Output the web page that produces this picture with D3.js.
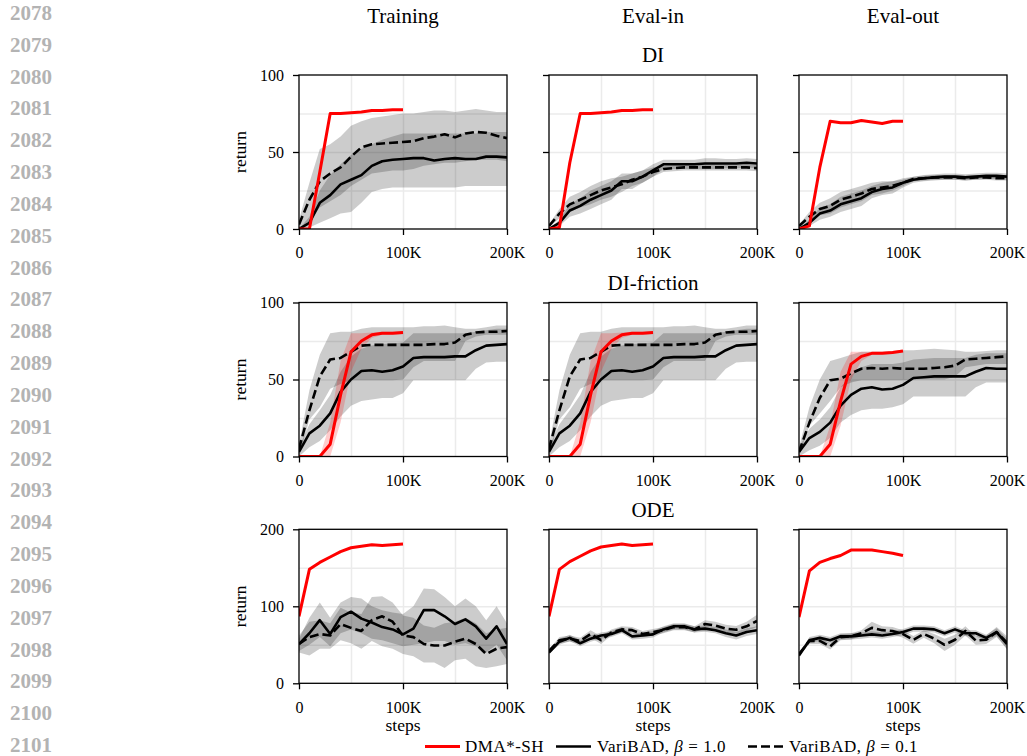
<!DOCTYPE html>
<html>
<head>
<meta charset="utf-8">
<script src="https://cdn.jsdelivr.net/npm/d3@7/dist/d3.min.js"></script>
<style>
    body { margin: 0; background: #fff; }
    svg text { font-family: "Liberation Serif", "DejaVu Serif", serif; }
</style>
</head>
<body>
<div id="chart"></div>
<script>

// x positions of the logged points
var stepsDma = [0, 10000, 20000, 30000, 40000, 50000, 60000, 70000, 80000, 90000, 100000];
var stepsVb = [0, 10000, 20000, 30000, 40000, 50000, 60000, 70000, 80000, 90000, 100000,
    110000, 120000, 130000, 140000, 150000, 160000, 170000, 180000, 190000, 200000];

var columnTitles = ["Training", "Eval-in", "Eval-out"];
var rowTitles = ["DI", "DI-friction", "ODE"];
var rowMax = [100, 100, 200];
var legendNames = ["DMA*-SH", "VariBAD, ", "VariBAD, "];
var legendBeta = ["", "1.0", "0.1"];
var lineNumbers = [2078, 2079, 2080, 2081, 2082, 2083, 2084, 2085, 2086, 2087, 2088, 2089,
    2090, 2091, 2092, 2093, 2094, 2095, 2096, 2097, 2098, 2099, 2100, 2101];

// every point is [mean, lower, upper]
// DI
var diTrainDma = [[0,0,0],[0,0,0.5],[37,35,39],[75,74.5,75.5],[75,74.5,75.5],[75.5,75,76],[76,75.5,76.5],[77,76.5,77.5],[77,76.5,77.5],[77.5,77,78],[77.5,77,78]];
var diTrainVb1 = [[0,0,0],[4,1,8],[17,4,25],[22,7,35],[29,10,42],[32,11,48],[35,17,52],[41,24,55],[44,26,58],[45,27,60],[45.5,27,62],[46,27,62],[46,27,62],[44.5,27,62],[45.5,27,62],[46,27,62],[45.5,28,62],[45.5,28,62],[47,28,63],[47,28,63],[46.5,28,63]];
var diTrainVb01 = [[3,0,6],[19,5,30],[31,14,52],[36,18,55],[40,22,60],[47,28,67],[53,32,70],[55,36,72],[55.5,37,73],[56,38,74],[56.5,38,75],[57,39,75],[59,41,76],[60,42,77],[61.5,43,77],[59.5,43,76],[62,44,77],[63,45,78],[62.5,45,77],[60.5,45,76],[59,44,76]];

var diInDma = [[0,0,0],[1,0,2],[43,41,45],[75,74.5,75.5],[75,74.5,75.5],[75.5,75,76],[76,75.5,76.5],[77,76.5,77.5],[77,76.5,77.5],[77.5,77,78],[77.5,77,78]];
var diInVb1 = [[0,0,0],[4,2,6],[12,8,16],[15,10,20],[19,13,25],[22,16,28],[25,19,31],[31,26,36],[31,26,36],[34,30,38],[38,34,42],[42,39,45],[42,39,45],[42,39,45],[42,39,45],[42.5,39,46],[42.5,39,46],[42.5,39.5,45.5],[42.5,39.5,45.5],[43,40,46],[42.5,39.5,45.5]];
var diInVb01 = [[2,1,3],[10,7,13],[16,11,21],[19,14,24],[22,16,28],[25,19,31],[27,21,33],[29,24,34],[32,28,36],[34,30,38],[37,34,40],[39,37,41],[39.5,37.5,41.5],[40,38,42],[40,38,42],[40,38,42],[40,38,42],[40,38,42],[40,38,42],[40,38,42],[39.5,37.5,41.5]];

var diOutDma = [[0,0,0],[2,1,3],[40,38,42],[70,69.5,70.5],[69,68.5,69.5],[69,68.5,69.5],[70.5,70,71],[69.5,69,70],[68.5,68,69],[70,69.5,70.5],[70,69.5,70.5]];
var diOutVb1 = [[0,0,0],[4,2,6],[10,6,14],[12,8,16],[16,11,21],[18,13,23],[20,15,25],[24,20,28],[26,22,30],[27,23,31],[30,27,33],[32,30,34],[33,31,35],[33.5,31.5,35.5],[34,32,36],[34,32,36],[33.5,31.5,35.5],[34,32,36],[34.5,32.5,36.5],[34.5,32.5,36.5],[34,32,36]];
var diOutVb01 = [[2,1,3],[8,5,11],[13,9,17],[15,10,20],[19,14,24],[21,16,26],[23,18,28],[26,22,30],[27,23,31],[28,25,31],[30,28,32],[32.5,31,34],[33,31.5,34.5],[33.5,32,35],[33.5,32,35],[33.5,32,35],[33,31.5,34.5],[33.5,32,35],[33.5,32,35],[33,31.5,34.5],[33,31.5,34.5]];

// DI-friction
var fricTrainDma = [[0,0,0],[0,0,0],[0,0,0],[8,0,22],[40,22,62],[68,55,80],[75,70,80],[79,77,80.5],[80,79,81],[80,79,81],[80.5,79.5,81.5]];
var fricTrainVb1 = [[3,0,6],[15,6,21],[20,10,30],[28,17,40],[42,26,55],[50,33,65],[55.5,36,70],[56,37,72],[55,38,73],[56,38,73.5],[58.5,41,74],[64,49.5,80],[64.5,49.5,80],[64.5,49.5,80],[64.5,49.5,80],[65,49.5,80],[65,49.5,80],[69,57,81],[72,61,82],[72.5,61.5,83],[73,61.5,83]];
var fricTrainVb01 = [[5,0,8],[30,24,43],[52,32,66],[63,44,80],[64,47,81],[68,49.5,81],[72,49.5,83],[72.5,49.5,84],[72.5,49.5,84],[72.5,49.5,84],[72.5,50,84],[72.5,58,84],[72.5,62,84.5],[73,62,84.5],[73,62,85],[74,62,84],[79,75,83],[80.5,78,83],[81,79,84],[81,79,85],[81.5,79,85]];

var fricInDma = fricTrainDma;
var fricInVb1 = fricTrainVb1;
var fricInVb01 = fricTrainVb01;

var fricOutDma = [[0,0,0],[0,0,0],[0,0,0],[8,0,20],[36,20,55],[60,50,68],[65,62,68],[67,66,68],[67,66,68],[67.5,67,68.5],[68.5,68,69]];
var fricOutVb1 = [[3,0,6],[12,4,18],[16,7,24],[22,12,32],[33,22,45],[40,27,53],[44,30,58],[45,31,60],[43.5,31,60],[44,32,60],[46.5,34,61],[51,39,63],[51.5,39,63.5],[52,39,64],[52,39,64],[52,39,64],[52,39,64],[55,45,66],[57.5,48,67],[57,48,67],[57,48,67]];
var fricOutVb01 = [[3,0,6],[22,20,32],[38,28,50],[49.5,36,62],[50.5,45,64],[54,48,66],[57,49.5,68],[57.5,49.5,68],[57,49.5,68],[57.5,49.5,68.5],[57,49.5,69],[57,50,69],[57,50,69.5],[57.5,50,70],[58,50,69.5],[59,52,69],[63,58,68],[63.5,59,68],[64,60,68.5],[64.5,60,69],[65,60,69]];

// ODE
var odeTrainDma = [[87,86,88],[148,147,149],[157,156,158],[164,163,165],[171,170,172],[176,175,177],[178,177,179],[180,179,181],[179,178,180],[180,179,181],[181,180,182]];
var odeTrainVb1 = [[51,42,58],[65,50,85],[82,60,105],[64,48,85],[86,65,105],[93,70,112],[84,65,110],[79,58,100],[73,56,95],[70,52,92],[63.5,48,90],[71,50,100],[95,52,123],[95,55,122],[87,55,112],[77,50,100],[83,52,110],[74,48,100],[58,40,82],[74,50,100],[51,30,78]];
var odeTrainVb01 = [[51,40,62],[60,36,80],[64,45,82],[62,45,78],[77,56,98],[72,52,92],[68,45,90],[82,55,112],[87,48,113],[80,45,105],[62,38,88],[60,35,85],[51,27,75],[49,27,72],[49,20,78],[54,30,80],[58,32,85],[51,22,78],[38,20,65],[45,22,70],[47,25,72]];

var odeInDma = [[87,86,88],[148,147,149],[158,157,159],[165,164,166],[172,171,173],[177,176,178],[179,178,180],[181,180,182],[179,178,180],[180,179,181],[181,180,182]];
var odeInVb1 = [[40,38,42],[54,50,58],[59,55,63],[52,48,56],[58,54,62],[62,58,66],[64,60,68],[69,65,73],[61,57,65],[62,58,66],[63.5,59.5,67.5],[70,66,74],[74,70,78],[74,70,78],[70,66,74],[71,67,75],[69,65,73],[65,60,70],[62,57,67],[66.5,61.5,71.5],[69,64,74]];
var odeInVb01 = [[42,40,44],[56,52,60],[58,54,62],[55,51,59],[64,59,69],[56,51,61],[66,62,70],[70,66,74],[69,65,73],[64,60,68],[66.5,62.5,70.5],[69,65,73],[73,69,77],[73,69,77],[70,66,74],[77,72,82],[75,70,80],[71,66,76],[69.5,64.5,74.5],[74,68,80],[81,73,89]];

var odeOutDma = [[86,85,87],[146,145,147],[157,156,158],[162,161,163],[166,165,167],[173,172,174],[173,172,174],[173,172,174],[171,170,172],[169,168,170],[166,165,167]];
var odeOutVb1 = [[36,34,38],[56,52,60],[59,55,63],[56,52,60],[61,57,65],[61,57,65],[62,58,66],[63.5,59.5,67.5],[62,58,66],[64,60,68],[66.5,62.5,70.5],[71,67,75],[71,67,75],[70,66,74],[65,61,69],[70,66,74],[65,61,69],[65,61,69],[59,55,63],[66.5,61.5,71.5],[51,44,58]];
var odeOutVb01 = [[38,36,40],[55,51,59],[55,51,59],[48,44,52],[60,56,64],[61,57,65],[65,61,69],[72,64,80],[69,64,74],[68,63,73],[64,59,69],[56.5,51.5,61.5],[64,59,69],[58,52,64],[50,42,58],[56.5,50,63],[68,62,74],[55.5,50,61],[56.5,51,62],[66.5,60,73],[53,45,61]];

// layout of the 3x3 grid
var colLeft = [299, 549, 799];
var rowTop = [75, 302.5, 529.3];
var panelW = 208, panelH = 154;
var redColor = "#ff0000";

var svg = d3.select("#chart").append("svg")
    .attr("width", 1027)
    .attr("height", 756);

/**
 * One panel: grid, bands, mean lines, frame and ticks
 * @param {d3.Selection} _svg Parent svg
 * @param {{}} _cfg row, col, yMax and the three series
 */
function LinePanel(_svg, _cfg) {
    let self = this;
    self.svg = _svg;
    self.cfg = _cfg;
    self.init();
}

LinePanel.prototype.init = function() {
    let self = this;
    let c = self.cfg;

    self.g = self.svg.append("g")
        .attr("transform", "translate(" + colLeft[c.col] + "," + rowTop[c.row] + ")");

    self.x = d3.scaleLinear().domain([0, 200000]).range([0, panelW]);
    self.y = d3.scaleLinear().domain([0, c.yMax]).range([panelH, 0]);

    let clipId = "clip" + c.row + "" + c.col;
    self.g.append("clipPath")
        .attr("id", clipId)
        .append("rect")
            .attr("width", panelW)
            .attr("height", panelH);

    // major and minor grid look the same
    self.g.append("g")
        .attr("class", "grid")
        .attr("transform", "translate(0," + panelH + ")")
        .call(d3.axisBottom(self.x).tickValues([50000, 100000, 150000]).tickSize(-panelH).tickFormat(""));
    self.g.append("g")
        .attr("class", "grid")
        .call(d3.axisLeft(self.y).tickValues([c.yMax / 4, c.yMax / 2, c.yMax * 3 / 4]).tickSize(-panelW).tickFormat(""));
    self.g.selectAll(".grid .domain").remove();
    self.g.selectAll(".grid line")
        .attr("stroke", "#ebebeb")
        .attr("stroke-width", 1.5);

    self.plot = self.g.append("g").attr("clip-path", "url(#" + clipId + ")");

    self.updateVis();

    // frame
    self.g.append("rect")
        .attr("width", panelW)
        .attr("height", panelH)
        .attr("fill", "none")
        .attr("stroke", "#000")
        .attr("stroke-width", 1.3);

    let xAxis = self.g.append("g")
        .attr("transform", "translate(0," + panelH + ")")
        .call(d3.axisBottom(self.x)
            .tickValues([0, 100000, 200000])
            .tickSize(6)
            .tickPadding(12)
            .tickFormat(function(d) { return d === 0 ? "0" : (d / 1000) + "K"; }));

    let yAxis = self.g.append("g")
        .call(d3.axisLeft(self.y)
            .tickValues([0, c.yMax / 2, c.yMax])
            .tickSize(6)
            .tickPadding(9)
            .tickFormat(c.col === 0 ? d3.format("d") : ""));

    [xAxis, yAxis].forEach(function(ax) {
        ax.select(".domain").remove();
        ax.attr("font-family", null).attr("font-size", null);
        ax.selectAll("line").attr("stroke", "#000").attr("stroke-width", 1.3);
        ax.selectAll("text").attr("fill", "#000").attr("font-size", "16px");
    });
}

LinePanel.prototype.updateVis = function() {
    let self = this;
    let c = self.cfg;

    let series = [
        {data: c.vb1, steps: stepsVb, color: "#000", width: 2.6, dash: null},
        {data: c.vb01, steps: stepsVb, color: "#000", width: 2.6, dash: "9,4"},
        {data: c.dma, steps: stepsDma, color: redColor, width: 3, dash: null}
    ];

    series.forEach(function(s) {
        let area = d3.area()
            .x(function(d, i) { return self.x(s.steps[i]); })
            .y0(function(d) { return self.y(d[1]); })
            .y1(function(d) { return self.y(d[2]); });
        self.plot.append("path")
            .datum(s.data)
            .attr("d", area)
            .attr("fill", s.color)
            .attr("fill-opacity", 0.2);
    });

    series.forEach(function(s) {
        let line = d3.line()
            .x(function(d, i) { return self.x(s.steps[i]); })
            .y(function(d) { return self.y(d[0]); });
        self.plot.append("path")
            .datum(s.data)
            .attr("d", line)
            .attr("fill", "none")
            .attr("stroke", s.color)
            .attr("stroke-width", s.width)
            .attr("stroke-linejoin", "round")
            .attr("stroke-dasharray", s.dash);
    });
}

var panelSeries = [
    [[diTrainDma, diTrainVb1, diTrainVb01], [diInDma, diInVb1, diInVb01], [diOutDma, diOutVb1, diOutVb01]],
    [[fricTrainDma, fricTrainVb1, fricTrainVb01], [fricInDma, fricInVb1, fricInVb01], [fricOutDma, fricOutVb1, fricOutVb01]],
    [[odeTrainDma, odeTrainVb1, odeTrainVb01], [odeInDma, odeInVb1, odeInVb01], [odeOutDma, odeOutVb1, odeOutVb01]]
];

panelSeries.forEach(function(rowData, r) {
    rowData.forEach(function(s, col) {
        new LinePanel(svg, {row: r, col: col, yMax: rowMax[r], dma: s[0], vb1: s[1], vb01: s[2]});
    });
});

// column titles
svg.selectAll(".colTitle")
    .data(columnTitles)
    .enter()
    .append("text")
        .attr("class", "colTitle")
        .attr("x", function(d, i) { return colLeft[i] + panelW / 2; })
        .attr("y", 23)
        .attr("text-anchor", "middle")
        .attr("font-size", "21px")
        .text(function(d) { return d; });

// row titles over the middle column
var rowTitleY = [62, 289.5, 517];
svg.selectAll(".rowTitle")
    .data(rowTitles)
    .enter()
    .append("text")
        .attr("class", "rowTitle")
        .attr("x", colLeft[1] + panelW / 2)
        .attr("y", function(d, i) { return rowTitleY[i]; })
        .attr("text-anchor", "middle")
        .attr("font-size", "21px")
        .text(function(d) { return d; });

// y labels
rowTop.forEach(function(t) {
    svg.append("text")
        .attr("transform", "translate(246," + (t + panelH / 2) + ") rotate(-90)")
        .attr("text-anchor", "middle")
        .attr("font-size", "17.5px")
        .text("return");
});

// x labels
colLeft.forEach(function(l) {
    svg.append("text")
        .attr("x", l + panelW / 2)
        .attr("y", 731)
        .attr("text-anchor", "middle")
        .attr("font-size", "17.5px")
        .text("steps");
});

// legend
var legendLineX = [425, 556, 748];
var legendTextX = [465, 597, 789];
var legend = svg.append("g").attr("class", "legend");
legendNames.forEach(function(name, i) {
    legend.append("line")
        .attr("x1", legendLineX[i])
        .attr("x2", legendLineX[i] + 35)
        .attr("y1", 746.5)
        .attr("y2", 746.5)
        .attr("stroke", i === 0 ? redColor : "#000")
        .attr("stroke-width", i === 0 ? 3 : 2.6)
        .attr("stroke-dasharray", i === 2 ? "9,4" : null);

    let t = legend.append("text")
        .attr("x", legendTextX[i])
        .attr("y", 752)
        .attr("font-size", "17px")
        .attr("letter-spacing", "0.5px")
        .text(name);
    if (legendBeta[i] !== "") {
        t.append("tspan").attr("font-style", "italic").text("\u03b2");
        t.append("tspan").attr("dx", 5).text("=");
        t.append("tspan").attr("dx", 5).text(legendBeta[i]);
    }
});

// page line numbers in the margin
var lineY = d3.scaleLinear().domain([2078, 2101]).range([20, 752]);
svg.selectAll(".lineNo")
    .data(lineNumbers)
    .enter()
    .append("text")
        .attr("class", "lineNo")
        .attr("x", 10)
        .attr("y", function(d) { return lineY(d); })
        .attr("font-family", "'Liberation Sans', Arial, sans-serif")
        .attr("font-weight", "bold")
        .attr("font-size", "21px")
        .attr("fill", "#b3b3b3")
        .text(function(d) { return d; });

</script>
</body>
</html>
